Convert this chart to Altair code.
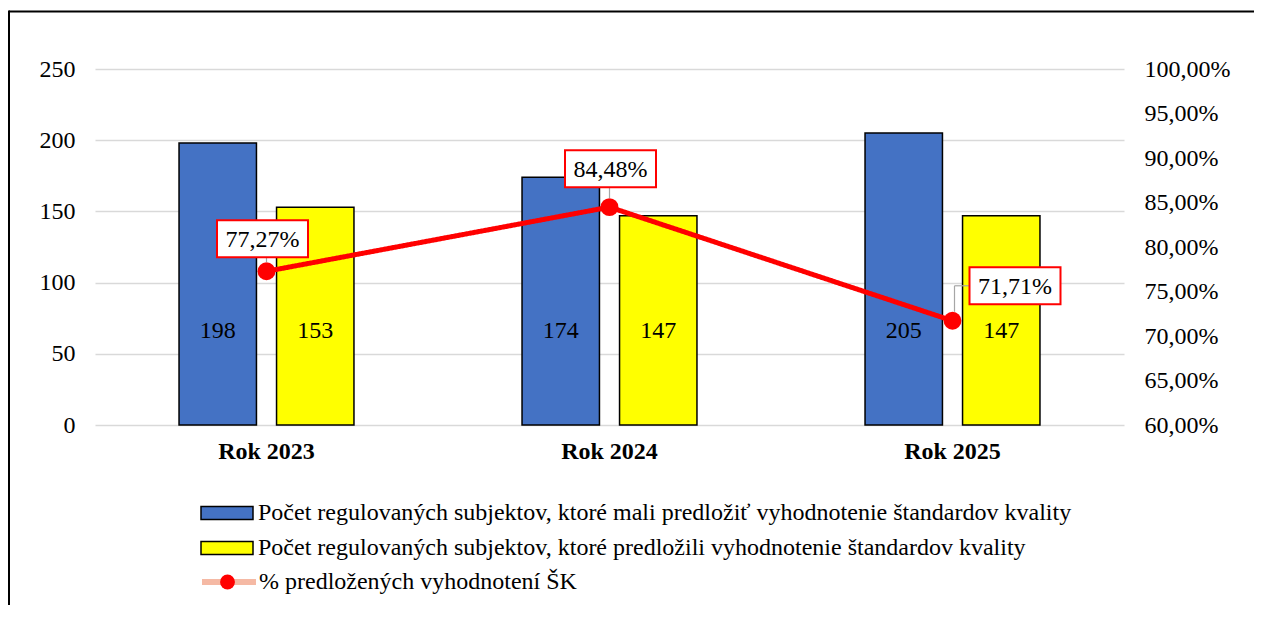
import altair as alt
import pandas as pd

years = ["Rok 2023", "Rok 2024", "Rok 2025"]
series = [
    "Počet regulovaných subjektov, ktoré mali predložiť vyhodnotenie štandardov kvality",
    "Počet regulovaných subjektov, ktoré predložili vyhodnotenie štandardov kvality",
]
expected = [198, 174, 205]
submitted = [153, 147, 147]
pct = [77.27, 84.48, 71.71]
line_name = "% predložených vyhodnotení ŠK"
left_ticks = [0, 50, 100, 150, 200, 250]
right_ticks = [60, 65, 70, 75, 80, 85, 90, 95, 100]

bars_df = pd.DataFrame({
    "year": years * 2,
    "series": [series[0]] * 3 + [series[1]] * 3,
    "value": expected + submitted,
})
line_df = pd.DataFrame({
    "year": years,
    "pct": pct,
    "label": [f"{v:.2f}".replace(".", ",") + "%" for v in pct],
    "line_series": [line_name] * 3,
    "marker_series": [line_name] * 3,
})

FONT = "Liberation Serif"
FS = 24
BOX_W, BOX_H = 91, 37
BOX = f"M-1,-{BOX_H / BOX_W:.4f}H1V{BOX_H / BOX_W:.4f}H-1Z"
# pixel offsets of each percentage label box from its point (style only)
LABEL_OFFSETS = [(-4, -32.5), (1, -38.5), (62.5, -35)]

x_enc = alt.X("year:N", sort=years,
              scale=alt.Scale(paddingInner=0.49, paddingOuter=0.245),
              axis=alt.Axis(title=None, labelFont=FONT, labelFontSize=FS, labelFontWeight="bold",
                            labelColor="black", labelPadding=14, ticks=False, domain=False, labelAngle=0))
xoff = alt.XOffset("series:N", sort=series, scale=alt.Scale(paddingInner=0.206, paddingOuter=0))

y_left = alt.Y("value:Q", scale=alt.Scale(domain=[0, 250], nice=False),
               axis=alt.Axis(title=None, values=left_ticks, grid=True, gridColor="#d9d9d9", gridWidth=1.5,
                             domain=False, ticks=False, labelFont=FONT, labelFontSize=FS,
                             labelColor="black", labelPadding=20))

y_right = alt.Y("pct:Q", scale=alt.Scale(domain=[60, 100], nice=False),
                axis=alt.Axis(orient="right", title=None, values=right_ticks, grid=False, domain=False,
                              ticks=False, labelFont=FONT, labelFontSize=FS, labelColor="black",
                              labelPadding=20,
                              labelExpr="replace(format(datum.value, '.2f'), '.', ',') + '%'"))

bars = alt.Chart(bars_df).mark_bar(stroke="black", strokeWidth=1.5).encode(
    x=x_enc,
    xOffset=xoff,
    y=y_left,
    fill=alt.Fill("series:N", sort=series,
                  scale=alt.Scale(domain=series, range=["#4472c4", "#ffff00"]),
                  legend=alt.Legend(title=None, orient="none", legendX=105, legendY=427.5,
                                    direction="vertical", symbolType="M-1,-0.25H1V0.25H-1Z",
                                    symbolSize=2704, symbolStrokeColor="black", symbolStrokeWidth=1.5,
                                    labelFont=FONT, labelFontSize=FS, labelColor="black", labelOffset=4,
                                    clipHeight=33, rowPadding=2, labelLimit=1200, padding=0)),
)

bar_text = alt.Chart(bars_df).mark_text(font=FONT, fontSize=FS, color="black").encode(
    x=x_enc, xOffset=xoff, y=alt.datum(66), text="value:Q"
)

left_layer = alt.layer(bars, bar_text)

line = alt.Chart(line_df).mark_line(color="red", strokeWidth=5).encode(
    x=x_enc, y=y_right,
    strokeDash=alt.StrokeDash("line_series:N", scale=alt.Scale(range=[[1, 0]]),
                              legend=alt.Legend(title=None, orient="none", legendX=104, legendY=496.5,
                                                symbolType="M-1,0H1", symbolSize=2916,
                                                symbolStrokeColor="#f5b9a4", symbolStrokeWidth=6,
                                                labelFont=FONT, labelFontSize=FS, labelColor="black",
                                                labelOffset=0, clipHeight=33, labelLimit=1200, padding=0)),
)

points = alt.Chart(line_df).mark_point(filled=True, color="red", size=320, opacity=1).encode(
    x=x_enc, y=y_right,
    shape=alt.Shape("marker_series:N", scale=alt.Scale(range=["circle"]),
                    legend=alt.Legend(title=None, orient="none", legendX=125, legendY=496.5,
                                      symbolSize=220, symbolFillColor="red", symbolStrokeWidth=0,
                                      labelExpr="''", clipHeight=33, padding=0)),
)

label_layers = []
for i, (dx, dy) in enumerate(LABEL_OFFSETS):
    sel = alt.datum.year == years[i]
    base = alt.Chart(line_df).transform_filter(sel)
    if dx > 20:
        # leader: up from the point, then across to the box
        label_layers.append(base.mark_rule(color="#a6a6a6", strokeWidth=1.2, xOffset=2, yOffset=-9,
                                           y2Offset=dy).encode(x=x_enc, y=y_right, y2="pct:Q"))
        label_layers.append(base.mark_rule(color="#a6a6a6", strokeWidth=1.2, xOffset=2, x2Offset=dx - BOX_W / 2,
                                           yOffset=dy, y2Offset=dy).encode(x=x_enc, x2="year:N", y=y_right, y2="pct:Q"))
    else:
        label_layers.append(base.mark_rule(color="#a6a6a6", strokeWidth=1.2, yOffset=-9,
                                           y2Offset=dy + BOX_H / 2).encode(x=x_enc, y=y_right, y2="pct:Q"))
    label_layers.append(base.mark_point(
        shape=BOX, size=BOX_W * BOX_W, fill="white", stroke="red", strokeWidth=2, opacity=1, filled=True,
        fillOpacity=1, xOffset=dx, yOffset=dy).encode(x=x_enc, y=y_right))
    label_layers.append(base.mark_text(
        font=FONT, fontSize=FS, color="black", xOffset=dx, yOffset=dy + 1).encode(x=x_enc, y=y_right, text="label:N"))

right_layer = alt.layer(line, points, *label_layers)

frame_df = pd.DataFrame({"k": [0]})
frame_top = alt.Chart(frame_df).mark_rule(color="black", strokeWidth=2).encode(
    x=alt.value(-86), x2=alt.value(1160), y=alt.value(-57.5))
frame_left = alt.Chart(frame_df).mark_rule(color="black", strokeWidth=2).encode(
    x=alt.value(-86), y=alt.value(-58.5), y2=alt.value(560))

chart = alt.layer(left_layer, right_layer, frame_top, frame_left).resolve_scale(
    y="independent"
).properties(
    width=1029, height=356,
    padding={"left": 87, "top": 61, "right": 130, "bottom": 180},
    autosize=alt.AutoSizeParams(type="none"),
).configure_view(stroke="transparent")

chart.save("out.html", embed_options={"renderer": "svg", "actions": False})
